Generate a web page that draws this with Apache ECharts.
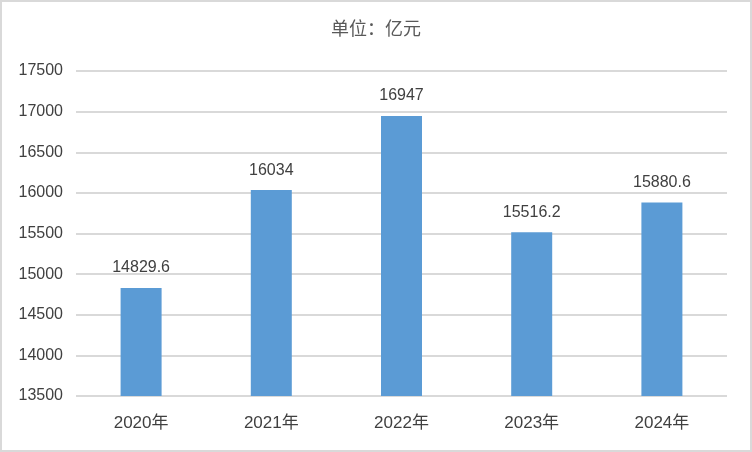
<!DOCTYPE html>
<html><head><meta charset="utf-8">
<script src="https://cdn.jsdelivr.net/npm/echarts@6/dist/echarts.min.js"></script>
<style>html,body{margin:0;padding:0;background:#fff}#c{width:752px;height:452px}</style>
</head><body><div id="c"></div>
<script>
var categories = ['2020年','2021年','2022年','2023年','2024年'];
var values = [14829.6, 16034, 16947, 15516.2, 15880.6];
var chart = echarts.init(document.getElementById('c'));
var ff = '"Liberation Sans", "Noto Sans CJK SC", sans-serif';
var ffc = '"Noto Sans CJK SC", sans-serif';
chart.setOption({
  animation:false,
  backgroundColor:'#fff',
  title:{text:'单位：亿元',left:'center',top:14,textStyle:{fontFamily:ffc,fontSize:18,fontWeight:'normal',color:'#595959'}},
  graphic:[{type:'rect',shape:{x:1,y:1,width:750,height:450},style:{fill:'none',stroke:'#d9d9d9',lineWidth:2},silent:true}],
  grid:{left:76,right:25,top:71,bottom:56},
  xAxis:{type:'category',data:categories,axisTick:{show:false},axisLine:{show:false},
    axisLabel:{fontFamily:ff,fontSize:17,color:'#404040',margin:19}},
  yAxis:{type:'value',min:13500,max:17500,interval:500,axisLine:{show:false},axisTick:{show:false},
    splitLine:{lineStyle:{color:'#d9d9d9',width:2}},
    axisLabel:{fontFamily:ff,fontSize:16,color:'#404040',margin:13,formatter:function(v){return String(v);}}},
  series:[{type:'bar',data:values,barWidth:41,itemStyle:{color:'#5b9bd5'},
    label:{show:true,position:'top',distance:12,fontFamily:ff,fontSize:16,color:'#404040'}}]
});
</script></body></html>
